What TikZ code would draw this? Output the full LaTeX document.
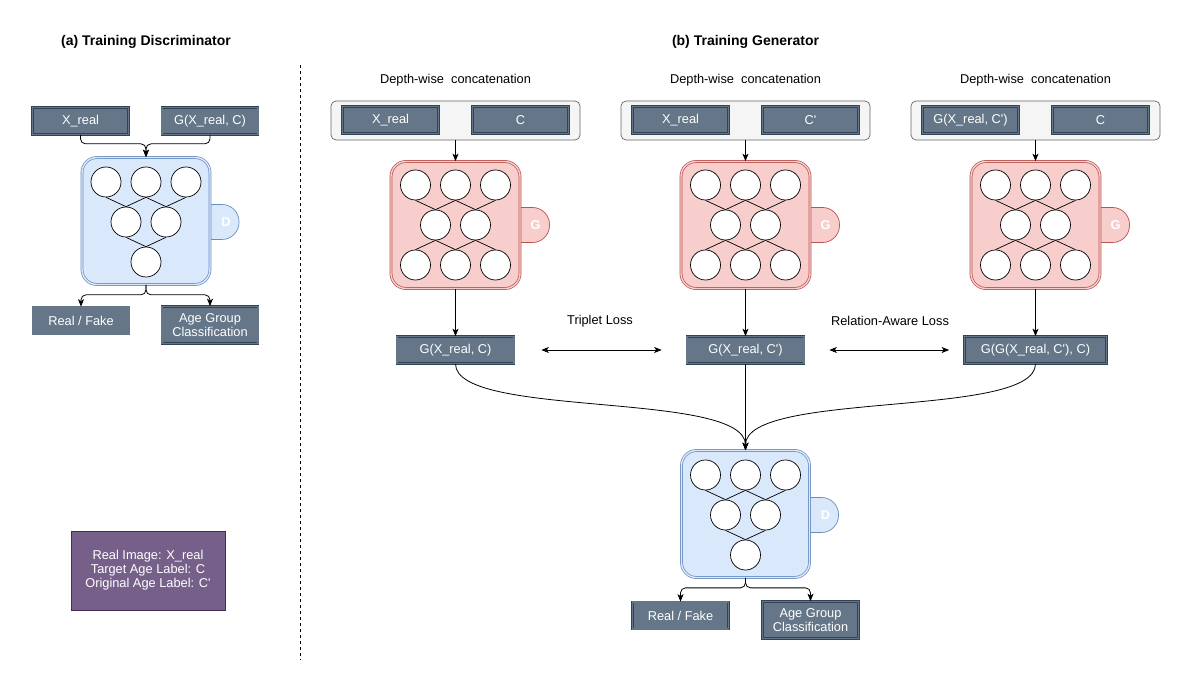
\documentclass[tikz,border=0pt]{standalone}
\usepackage{fontspec}
\setmainfont{Liberation Sans}[Ligatures=TeXOff]
\usetikzlibrary{arrows.meta}
\definecolor{boxfill}{HTML}{647687}
\definecolor{boxline}{HTML}{314354}
\definecolor{dfill}{HTML}{DAE8FC}
\definecolor{dline}{HTML}{6C8EBF}
\definecolor{gfill}{HTML}{F8CECC}
\definecolor{gline}{HTML}{B85450}
\definecolor{catfill}{HTML}{F5F5F5}
\definecolor{catline}{HTML}{666666}
\definecolor{keyfill}{HTML}{76608A}
\definecolor{keyline}{HTML}{432D57}

\begin{document}
\begin{tikzpicture}[x=1pt,y=-1pt,line width=0.8pt,>={Stealth[length=7.5pt,width=6pt,inset=2pt]},font=\fontsize{12.8}{14}\selectfont,
 box/.style={draw=boxline,double=boxfill,double distance=1.4pt,line width=0.7pt,fill=boxfill,text=white,minimum width=96pt,minimum height=27pt,inner sep=0pt,align=center},
 cat/.style={draw=catline,fill=catfill,rounded corners=5pt,minimum width=249pt,minimum height=39pt,line width=0.7pt},
 dblock/.style={draw=dline,double=dfill,double distance=1.4pt,line width=0.7pt,fill=dfill,rounded corners=15pt,minimum width=128pt,minimum height=127pt},
 gblock/.style={draw=gline,double=gfill,double distance=1.4pt,line width=0.7pt,fill=gfill,rounded corners=15pt,minimum width=129pt,minimum height=127pt},
 dtab/.style={draw=dline,fill=dfill,rounded corners=17pt,minimum width=56pt,minimum height=35pt,line width=0.7pt},
 gtab/.style={draw=gline,fill=gfill,rounded corners=17pt,minimum width=56pt,minimum height=35pt,line width=0.7pt},
 tabtext/.style={text=white,font=\fontsize{12.8}{14}\selectfont\bfseries},
 unit/.style={draw,circle,fill=white,minimum size=30pt,inner sep=0pt,line width=0.7pt},
 title/.style={font=\fontsize{14}{16}\selectfont\bfseries}]
\useasboundingbox[fill=white] (0,0) rectangle (1191,692);

% (a) discriminator side
\node[title] (ta)at(146,42){(a) Training Discriminator};
\draw[dash pattern=on 3pt off 3pt] (300,65) -- (300,660);
\node[box] (xr)at(80.5,121){X\_real};
\node[box] (gxr)at(210,121){G(X\_real, C)};

% D blocks
\foreach \n/\cx/\cy in {da/146/222,db/745.5/515}{
\node[dtab] (t\n)at(\cx+65,\cy) {};
\node[dblock] (\n)at(\cx,\cy-1) {};
\node[tabtext] (l\n)at(\cx+80,\cy) {D};
\node[unit] (\n1)at(\cx-40,\cy-40) {};
\node[unit] (\n2)at(\cx,\cy-40) {};
\node[unit] (\n3)at(\cx+40,\cy-40) {};
\node[unit] (\n4)at(\cx-20,\cy) {};
\node[unit] (\n5)at(\cx+20,\cy) {};
\node[unit] (\n6)at(\cx,\cy+40) {};
\draw[line width=0.7pt] (\n1.south) -- (\n4.north);
\draw[line width=0.7pt] (\n2.south) -- (\n4.north);
\draw[line width=0.7pt] (\n2.south) -- (\n5.north);
\draw[line width=0.7pt] (\n3.south) -- (\n5.north);
\draw[line width=0.7pt] (\n4.south) -- (\n6.north);
\draw[line width=0.7pt] (\n5.south) -- (\n6.north);
}

\draw[->,rounded corners=5pt] (xr.south) -- ++(0,9) -| (da.north);
\draw[->,rounded corners=5pt] (gxr.south) -- ++(0,9) -| (da.north);
\node[box] (rfa)at(81,320.5){Real / Fake};
\node[box,minimum height=37pt] (aga)at(210,325){Age Group\\Classification};
\draw[->,rounded corners=5pt] (da.south) -- ++(0,10) -| (rfa.north);
\draw[->,rounded corners=5pt] (da.south) -- ++(0,10) -| (aga.north);

\node[draw=keyline,fill=keyfill,text=white,align=center,minimum width=154pt,minimum height=79pt] (key)at(148,570.5){Real Image: X\_real\\Target Age Label: C\\Original Age Label: C'};

% (b) generator side
\node[title] (tb)at(745.5,42){(b) Training Generator};
\foreach \n/\cx/\ia/\ib in {ga/455.5/X\_real/C,gb/745.5/X\_real/C',gc/1035.5/{G(X\_real, C')}/C}{
\node (d\n)at(\cx,80){Depth-wise~ concatenation};
\node[cat] (c\n)at(\cx,120.5){};
\node[box] (i\n)at(\cx-65,120){\ia};
\node[box] (j\n)at(\cx+65,120){\ib};
\node[gtab] (t\n)at(\cx+66,225) {};
\node[gblock] (\n)at(\cx,225) {};
\node[tabtext] (l\n)at(\cx+80,225) {G};
\node[unit] (\n1)at(\cx-40,185) {};
\node[unit] (\n2)at(\cx,185) {};
\node[unit] (\n3)at(\cx+40,185) {};
\node[unit] (\n4)at(\cx-20,225) {};
\node[unit] (\n5)at(\cx+20,225) {};
\node[unit] (\n6)at(\cx-40,265) {};
\node[unit] (\n7)at(\cx,265) {};
\node[unit] (\n8)at(\cx+40,265) {};
\draw[line width=0.7pt] (\n1.south) -- (\n4.north);
\draw[line width=0.7pt] (\n2.south) -- (\n4.north);
\draw[line width=0.7pt] (\n2.south) -- (\n5.north);
\draw[line width=0.7pt] (\n3.south) -- (\n5.north);
\draw[line width=0.7pt] (\n4.south) -- (\n6.north);
\draw[line width=0.7pt] (\n4.south) -- (\n7.north);
\draw[line width=0.7pt] (\n5.south) -- (\n7.north);
\draw[line width=0.7pt] (\n5.south) -- (\n8.north);
\draw[->] (c\n.south) -- (\n.north);
}

\node[box,minimum width=117pt] (oa)at(455.5,350){G(X\_real, C)};
\node[box,minimum width=117pt] (ob)at(745.5,350){G(X\_real, C')};
\node[box,minimum width=142pt] (oc)at(1035.5,350){G(G(X\_real, C'), C)};
\draw[->] (ga.south) -- (oa.north);
\draw[->] (gb.south) -- (ob.north);
\draw[->] (gc.south) -- (oc.north);
\node (la)at(600,321){Triplet Loss};
\node (lb)at(890,321){Relation-Aware Loss};
\draw[<->,shorten <=27pt,shorten >=25pt] (oa.east) -- (ob.west);
\draw[<->,shorten <=25pt,shorten >=15pt] (ob.east) -- (oc.west);

\draw[->] (oa.south) .. controls +(0,55) and +(0,-60) .. (db.north);
\draw[->] (ob.south) -- (db.north);
\draw[->] (oc.south) .. controls +(0,55) and +(0,-60) .. (db.north);

\node[box] (rfb)at(680.5,615.5){Real / Fake};
\node[box,minimum height=37pt] (agb)at(810.5,620){Age Group\\Classification};
\draw[->,rounded corners=5pt] (db.south) -- ++(0,10) -| (rfb.north);
\draw[->,rounded corners=5pt] (db.south) -- ++(0,10) -| (agb.north);
\end{tikzpicture}
\end{document}
